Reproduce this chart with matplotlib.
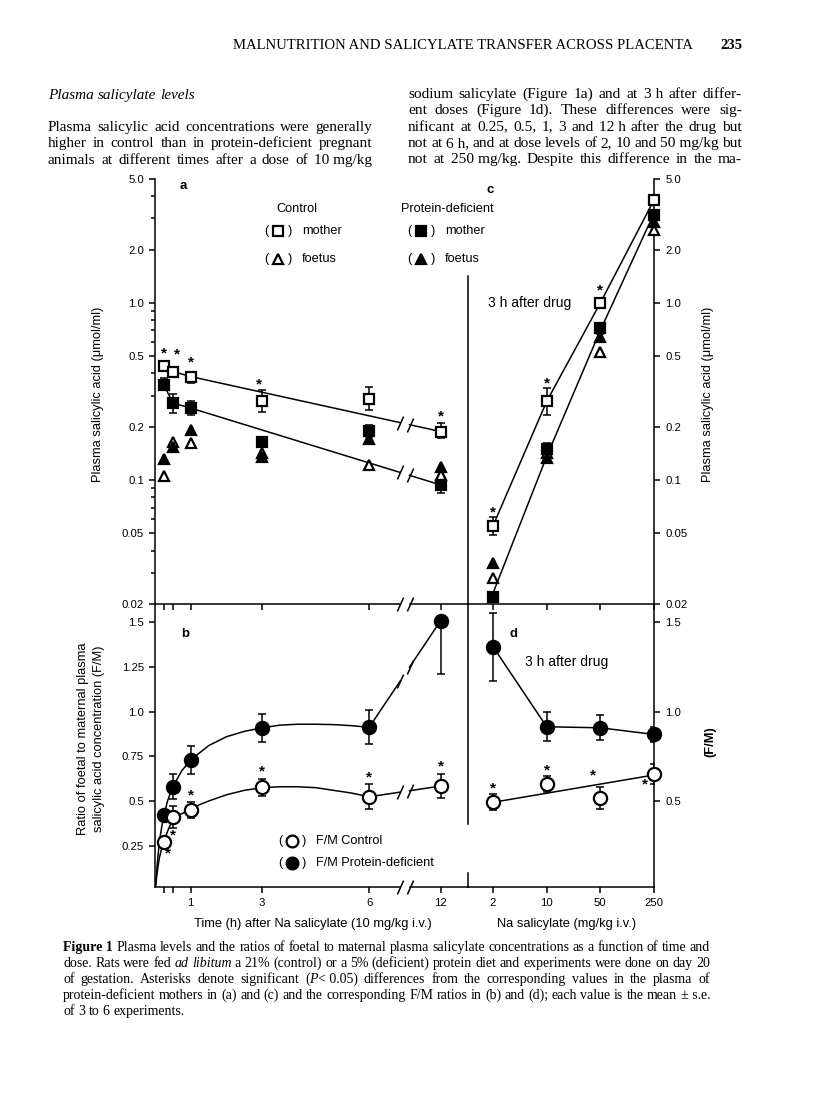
import numpy as np
import matplotlib
matplotlib.use("Agg")
import matplotlib.pyplot as plt
from matplotlib.lines import Line2D
from matplotlib.ticker import LogLocator, NullLocator

plt.rcParams['font.family'] = ['Liberation Sans', 'DejaVu Sans']

# ---- data: time course, 10 mg/kg (panels a and b) ----
time_h = [0.25, 0.5, 1, 3, 6, 12]
time_ticks = [0.25, 0.5, 1, 3, 6, 12]
time_labels = ['', '', '1', '3', '6', '12']

a_ctrl_mother = [0.44, 0.41, 0.384, 0.281, 0.287, 0.188]
a_ctrl_mother_lo = [0.414, 0.395, 0.354, 0.241, 0.249, 0.173]
a_ctrl_mother_hi = [0.47, 0.425, 0.41, 0.323, 0.335, 0.209]
a_pd_mother = [0.345, 0.272, 0.255, 0.165, 0.19, 0.094]
a_pd_mother_lo = [0.323, 0.24, 0.233, 0.155, 0.175, 0.085]
a_pd_mother_hi = [0.377, 0.307, 0.278, 0.176, 0.205, 0.103]
a_ctrl_foetus = [0.106, 0.165, 0.163, 0.143, 0.122, 0.107]
a_pd_foetus = [0.132, 0.153, 0.192, 0.135, 0.17, 0.118]

# fitted lines drawn in (a)
a_ctrl_fit_t = [0.5, 1, 12]
a_ctrl_fit_v = [0.41, 0.384, 0.188]
a_pd_fit_t = [0.25, 0.5, 1, 12]
a_pd_fit_v = [0.345, 0.272, 0.255, 0.094]

a_star_t = [0.25, 0.62, 1, 2.92, 12]
a_star_v = [0.515, 0.51, 0.46, 0.345, 0.23]

b_ctrl = [0.273, 0.412, 0.45, 0.577, 0.524, 0.584]
b_ctrl_err = [0.02, 0.06, 0.047, 0.048, 0.07, 0.065]
b_pd = [0.422, 0.58, 0.73, 0.91, 0.913, 1.509]
b_pd_err_lo = [0.03, 0.07, 0.078, 0.078, 0.095, 0.30]
b_pd_err_hi = [0.03, 0.07, 0.078, 0.078, 0.095, 0.0]

# hand-drawn curves in (b)
b_curve_t = [0.02, 0.06, 0.12, 0.2, 0.25, 0.35, 0.5, 0.75, 1, 1.25, 1.5, 2, 2.5, 3,
             3.5, 4, 4.5, 5, 5.5, 6]
b_ctrl_curve = [0.03, 0.10, 0.18, 0.245, 0.27, 0.33, 0.40, 0.43, 0.45, 0.48, 0.50, 0.535,
                0.56, 0.575, 0.58, 0.58, 0.575, 0.56, 0.545, 0.524]
b_pd_curve = [0.03, 0.14, 0.27, 0.37, 0.42, 0.50, 0.58, 0.67, 0.73, 0.77, 0.81, 0.86,
              0.89, 0.91, 0.925, 0.93, 0.93, 0.928, 0.922, 0.913]

b_star_t = [0.36, 0.51, 1, 3, 6, 12]
b_star_v = [0.209, 0.31, 0.534, 0.664, 0.633, 0.692]

# ---- data: dose response, 3 h (panels c and d) ----
dose = [2, 10, 50, 250]
dose_labels = ['2', '10', '50', '250']

c_ctrl_mother = [0.0552, 0.278, 1.0, 3.81]
c_ctrl_mother_lo = [0.049, 0.233, 0.95, 3.6]
c_ctrl_mother_hi = [0.062, 0.33, 1.06, 4.0]
c_pd_mother = [0.022, 0.15, 0.72, 3.13]
c_pd_mother_lo = [0.021, 0.14, 0.67, 2.95]
c_pd_mother_hi = [0.023, 0.163, 0.77, 3.3]
c_ctrl_foetus = [0.028, 0.143, 0.531, 2.58]
c_pd_foetus = [0.034, 0.133, 0.646, 2.87]
c_pd_fit = [0.023, 0.136, 0.70, 3.2]

c_star_d = [2, 10, 50]
c_star_v = [0.066, 0.352, 1.18]

d_pd = [1.364, 0.916, 0.91, 0.873]
d_pd_err = [0.19, 0.08, 0.07, 0.04]
d_ctrl = [0.493, 0.594, 0.519, 0.651]
d_ctrl_err = [0.045, 0.045, 0.062, 0.055]
d_ctrl_fit_d = [2, 250]
d_ctrl_fit_v = [0.493, 0.646]

d_star_d = [2, 10, 40.5, 190]
d_star_v = [0.571, 0.674, 0.646, 0.595]

conc_ticks = [0.02, 0.05, 0.1, 0.2, 0.5, 1, 2, 5]
conc_labels = ['0.02', '0.05', '0.1', '0.2', '0.5', '1.0', '2.0', '5.0']
ratio_ticks = [0.25, 0.5, 0.75, 1.0, 1.25, 1.5]
ratio_labels = ['0.25', '0.5', '0.75', '1.0', '1.25', '1.5']

# ---- layout ----
W, H = 816, 1101
fig = plt.figure(figsize=(W / 100, H / 100), dpi=100)


def fx(x):
    return x / W


def fy(y):
    return 1 - y / H


def box(x0, y0, x1, y1):
    return [fx(x0), fy(y1), (x1 - x0) / W, (y1 - y0) / H]


def tpos(t):
    # time axis has a break between 6 and 12 h
    t = np.asarray(t, float)
    return np.where(t > 6, 6 + (t - 6) / 3, t)


ax_a = fig.add_axes(box(155, 179, 468, 604))
ax_c = fig.add_axes(box(468, 179, 654, 604))
ax_b = fig.add_axes(box(155, 604, 468, 887))
ax_d = fig.add_axes(box(468, 604, 654, 887))

LW = 1.1
XB, HG = 7.0, 0.13
slash = [(-0.45, -1), (0.45, 1)]

for ax in (ax_a, ax_b, ax_c, ax_d):
    for s in ax.spines.values():
        s.set_visible(False)
        s.set_linewidth(LW)
    ax.set_facecolor('none')
    ax.tick_params(which='both', direction='out', width=LW, labelsize=8.2, color='k')
    ax.tick_params(which='major', length=4.5)
    ax.tick_params(which='minor', length=3)

for ax in (ax_a, ax_b):
    ax.set_xlim(0, 313 / 35.7)
    ax.spines['left'].set_visible(True)
    ax.set_xticks(tpos(time_ticks))
    # bottom line with a break
    tr = ax.get_xaxis_transform()
    ax.plot([0, XB - HG], [0, 0], color='k', lw=LW, transform=tr, clip_on=False)
    ax.plot([XB + HG, 313 / 35.7], [0, 0], color='k', lw=LW, transform=tr, clip_on=False)
    ax.plot([XB - HG, XB + HG], [0, 0], ls='none', marker=slash, ms=10, mec='k', mew=LW,
            transform=tr, clip_on=False)
ax_a.set_xticklabels([])
ax_b.set_xticklabels(time_labels)

for ax in (ax_c, ax_d):
    ax.set_xscale('log')
    ax.set_xlim(0.945, 250)
    ax.xaxis.set_minor_locator(NullLocator())
    ax.spines['right'].set_visible(True)
    ax.spines['bottom'].set_visible(True)
    ax.set_xticks(dose)
    ax.yaxis.tick_right()
ax_c.set_xticklabels([])
ax_d.set_xticklabels(dose_labels)

for ax in (ax_a, ax_c):
    ax.set_yscale('log')
    ax.set_ylim(0.02, 5.0)
    ax.set_yticks(conc_ticks)
    ax.set_yticklabels(conc_labels)
ax_a.yaxis.set_minor_locator(LogLocator(subs=np.arange(2, 10)))
ax_c.yaxis.set_minor_locator(NullLocator())

for ax in (ax_b, ax_d):
    ax.set_ylim(0.019, 1.603)
ax_b.set_yticks(ratio_ticks)
ax_b.set_yticklabels(ratio_labels)
ax_d.set_yticks([0.5, 1.0, 1.5])
ax_d.set_yticklabels(['0.5', '1.0', '1.5'])


def broken(ax, xs, ys, log=False):
    # straight segment with the axis break marked on it
    yy = np.log10(ys) if log else np.asarray(ys, float)
    y0 = np.interp(XB - HG, xs, yy)
    y1 = np.interp(XB + HG, xs, yy)
    if log:
        y0, y1 = 10 ** y0, 10 ** y1
    ax.plot([xs[0], XB - HG], [ys[0], y0], 'k-', lw=LW, zorder=2)
    ax.plot([XB + HG, xs[1]], [y1, ys[1]], 'k-', lw=LW, zorder=2)
    ax.plot([XB - HG, XB + HG], [y0, y1], ls='none', marker=slash, ms=10, mec='k', mew=LW, zorder=2)


def pts(ax, x, y, marker, filled, ms, lo=None, hi=None, err=None):
    if err is not None:
        ax.errorbar(x, y, yerr=err, fmt='none', ecolor='k', elinewidth=LW, capsize=3,
                    capthick=LW, zorder=3)
    elif lo is not None:
        ax.errorbar(x, y, yerr=[np.array(y) - np.array(lo), np.array(hi) - np.array(y)],
                    fmt='none', ecolor='k', elinewidth=LW, capsize=3, capthick=LW, zorder=3)
    ax.plot(x, y, ls='none', marker=marker, ms=ms, mfc='k' if filled else 'white', mec='k',
            mew=1.6, zorder=4, clip_on=False)


def stars(ax, x, y):
    for xi, yi in zip(x, y):
        ax.text(xi, yi, '*', ha='center', va='center', fontsize=11, fontweight='bold')


# panel a
tp = tpos(time_h)
ax_a.plot(tpos(a_ctrl_fit_t[:2]), a_ctrl_fit_v[:2], 'k-', lw=LW)
broken(ax_a, tpos(a_ctrl_fit_t[1:]), a_ctrl_fit_v[1:], log=True)
ax_a.plot(tpos(a_pd_fit_t[:3]), a_pd_fit_v[:3], 'k-', lw=LW)
broken(ax_a, tpos(a_pd_fit_t[2:]), a_pd_fit_v[2:], log=True)
pts(ax_a, tp, a_ctrl_foetus, '^', False, 7.5)
pts(ax_a, tp, a_pd_foetus, '^', True, 7.5)
pts(ax_a, tp, a_pd_mother, 's', True, 7.5, a_pd_mother_lo, a_pd_mother_hi)
pts(ax_a, tp, a_ctrl_mother, 's', False, 7.5, a_ctrl_mother_lo, a_ctrl_mother_hi)
stars(ax_a, tpos(a_star_t), a_star_v)

# panel c
ax_c.plot(dose, c_ctrl_mother, 'k-', lw=LW)
ax_c.plot(dose, c_pd_fit, 'k-', lw=LW)
pts(ax_c, dose, c_ctrl_foetus, '^', False, 7.5)
pts(ax_c, dose, c_pd_foetus, '^', True, 7.5)
pts(ax_c, dose, c_pd_mother, 's', True, 7.5, c_pd_mother_lo, c_pd_mother_hi)
pts(ax_c, dose, c_ctrl_mother, 's', False, 7.5, c_ctrl_mother_lo, c_ctrl_mother_hi)
stars(ax_c, c_star_d, c_star_v)

# panel b
ax_b.plot(b_curve_t, b_ctrl_curve, 'k-', lw=LW)
ax_b.plot(b_curve_t, b_pd_curve, 'k-', lw=LW)
broken(ax_b, tpos(time_h[4:]), b_ctrl[4:])
broken(ax_b, tpos(time_h[4:]), b_pd[4:])
pts(ax_b, tp, b_pd, 'o', True, 9.5, err=[b_pd_err_lo, b_pd_err_hi])
pts(ax_b, tp, b_ctrl, 'o', False, 9.5, err=b_ctrl_err)
stars(ax_b, tpos(b_star_t), b_star_v)

# panel d
ax_d.plot(dose, d_pd, 'k-', lw=LW)
ax_d.plot(d_ctrl_fit_d, d_ctrl_fit_v, 'k-', lw=LW)
pts(ax_d, dose, d_pd, 'o', True, 9.5, err=d_pd_err)
pts(ax_d, dose, d_ctrl, 'o', False, 9.5, err=d_ctrl_err)
stars(ax_d, d_star_d, d_star_v)

# divider between time and dose panels
fig.add_artist(Line2D([fx(468)] * 2, [fy(276), fy(824)], color='k', lw=LW))
fig.add_artist(Line2D([fx(468)] * 2, [fy(873), fy(887)], color='k', lw=LW))

# panel letters and notes
for s, x, y in [('a', 183, 186), ('c', 490, 190), ('b', 185, 634), ('d', 513, 634)]:
    fig.text(fx(x), fy(y), s, fontsize=9.5, fontweight='bold', ha='center', va='center')
fig.text(fx(488), fy(303), '3 h after drug', fontsize=10, va='center')
fig.text(fx(525), fy(662), '3 h after drug', fontsize=10, va='center')


def key(x, y, marker, filled, label, ms):
    fig.text(fx(x - 1), fy(y), '(', fontsize=9.2, ha='center', va='center')
    fig.text(fx(x + 23), fy(y), ')', fontsize=9.2, ha='center', va='center')
    fig.add_artist(Line2D([fx(x + 11)], [fy(y)], marker=marker, ms=ms, mew=1.6, mec='k',
                          mfc='k' if filled else 'white', ls='none'))
    fig.text(fx(x + 35), fy(y), label, fontsize=9.2, va='center')


fig.text(fx(297), fy(209), 'Control', fontsize=9.2, ha='center', va='center')
fig.text(fx(447), fy(209), 'Protein-deficient', fontsize=9.2, ha='center', va='center')
key(267, 231, 's', False, 'mother', 7)
key(267, 259, '^', False, 'foetus', 7)
key(410, 231, 's', True, 'mother', 7)
key(410, 259, '^', True, 'foetus', 7)
key(281, 841, 'o', False, 'F/M Control', 8.5)
key(281, 863, 'o', True, 'F/M Protein-deficient', 8.5)

# axis titles
fig.text(fx(98), fy(394), 'Plasma salicylic acid (\u03bcmol/ml)', rotation=90, fontsize=9.3,
         ha='center', va='center')
fig.text(fx(708), fy(394), 'Plasma salicylic acid (\u03bcmol/ml)', rotation=90, fontsize=9.3,
         ha='center', va='center')
fig.text(fx(91), fy(739), 'Ratio of foetal to maternal plasma\nsalicylic acid concentration (F/M)',
         rotation=90, fontsize=9.3, ha='center', va='center', linespacing=1.35)
fig.text(fx(710), fy(742), '(F/M)', rotation=90, fontsize=9.3, fontweight='bold',
         ha='center', va='center')
fig.text(fx(313), fy(924), 'Time (h) after Na salicylate (10 mg/kg i.v.)', fontsize=9.3,
         ha='center', va='center')
fig.text(fx(567), fy(924), 'Na salicylate (mg/kg i.v.)', fontsize=9.3, ha='center', va='center')

# ---- page text ----
SERIF = 'Liberation Serif'
rend = fig.canvas.get_renderer()


def line(text, x0, x1, y, size, justify=True):
    # words separated by spaces, '|' joins parts, '_' italic, '#' bold, '~' hard space
    words = []
    for w in text.split(' '):
        parts = []
        for p in w.split('|'):
            st, wt = 'normal', 'normal'
            if p.startswith('_'):
                st, p = 'italic', p[1:]
            if p.startswith('#'):
                wt, p = 'bold', p[1:]
            t = fig.text(0, fy(y), p.replace('~', ' '), fontsize=size, family=SERIF,
                         style=st, weight=wt, va='baseline')
            parts.append((t, t.get_window_extent(rend).width))
        words.append(parts)
    widths = [sum(wd for _, wd in parts) for parts in words]
    if justify and len(words) > 1:
        gap = (x1 - x0 - sum(widths)) / (len(words) - 1)
    else:
        gap = size * 0.35
    x = x0
    for parts in words:
        for t, wd in parts:
            t.set_x(fx(x))
            x += wd
        x += gap


fig.text(fx(693), fy(49), 'MALNUTRITION AND SALICYLATE TRANSFER ACROSS PLACENTA', fontsize=10.6,
         family=SERIF, ha='right', va='baseline')
fig.text(fx(742), fy(49), '235', fontsize=10.6, family=SERIF, fontweight='bold', ha='right',
         va='baseline')

line('_Plasma _salicylate _levels', 48, 372, 99, 11, justify=False)
left_col = ['Plasma salicylic acid concentrations were generally',
            'higher in control than in protein-deficient pregnant',
            'animals at different times after a dose of 10~mg/kg']
for i, s in enumerate(left_col):
    line(s, 48, 372, 131 + 16.3 * i, 11.0)

right_col = ['sodium salicylate (Figure 1a) and at 3~h after differ-',
             'ent doses (Figure 1d). These differences were sig-',
             'nificant at 0.25, 0.5, 1, 3 and 12~h after the drug but',
             'not at 6~h, and at dose levels of 2, 10 and 50~mg/kg but',
             'not at 250~mg/kg. Despite this difference in the ma-']
for i, s in enumerate(right_col):
    line(s, 408, 742, 98 + 16.3 * i, 11.1)

caption = ['#Figure~1 Plasma levels and the ratios of foetal to maternal plasma salicylate concentrations as a function of time and',
           'dose. Rats were fed _ad _libitum a 21% (control) or a 5% (deficient) protein diet and experiments were done on day 20',
           'of gestation. Asterisks denote significant (|_P|<~0.05) differences from the corresponding values in the plasma of',
           'protein-deficient mothers in (a) and (c) and the corresponding F/M ratios in (b) and (d); each value is the mean \u00b1~s.e.']
for i, s in enumerate(caption):
    line(s, 63, 710, 951 + 16 * i, 10.0)
line('of 3 to 6 experiments.', 63, 710, 951 + 16 * 4, 10.0, justify=False)

fig.savefig('out.png', dpi=100)
